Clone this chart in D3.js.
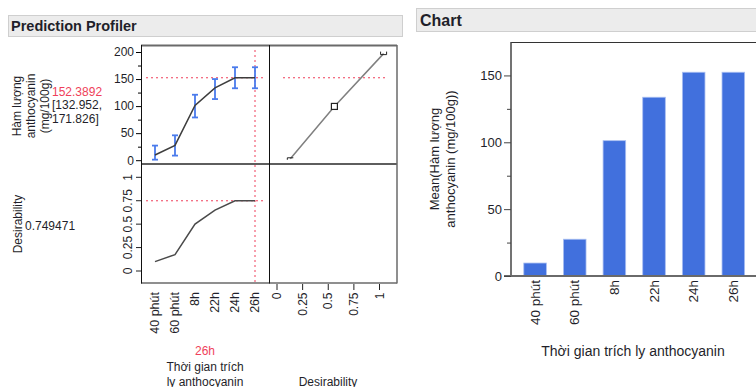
<!DOCTYPE html>
<html>
<head>
<meta charset="utf-8">
<script src="https://cdn.jsdelivr.net/npm/d3@7"></script>
<style>
  body { margin: 0; background: #fff; }
  text { font-family: "Liberation Sans", Arial, sans-serif; fill: #1f1f2a; }
</style>
</head>
<body>
<svg id="chart" width="756" height="387"></svg>
<script>
const times = ['40 phút', '60 phút', '8h', '22h', '24h', '26h'];
const meanAnth = [9.7, 27.5, 101.2, 133.7, 152.3892, 152.3892];
const ciLow = [1, 8.5, 79, 113, 132.952, 132.952];
const ciHigh = [27, 46, 121, 150, 171.826, 171.826];
const desirVals = [0.1, 0.175, 0.5, 0.65, 0.749471, 0.749471];
const desirFnResp = [2.6, 99.4, 197];
const desirFnD = [0.13, 0.56, 1.04];
const anthTicks = [0, 50, 100, 150, 200];
const anthMinor = [25, 75, 125, 175];
const desirTicks = [0, 0.25, 0.5, 0.75, 1];
const barTicks = [0, 50, 100, 150];
const barMinor = [25, 75, 125];
const selTime = '26h';
const selValue = '152.3892';
const selCI = ['[132.952,', '171.826]'];
const selDesir = '0.749471';

const red = '#ef3f5a';
const svg = d3.select('#chart');

// headers
svg.append('rect').attr('x', 8.5).attr('y', 15.5).attr('width', 394).attr('height', 21)
  .attr('fill', '#ececec').attr('stroke', '#cfcfcf');
svg.append('text').attr('x', 11).attr('y', 31).text('Prediction Profiler')
  .style('font-weight', 'bold').style('font-size', '14.5px');
svg.append('rect').attr('x', 416.5).attr('y', 8.5).attr('width', 345).attr('height', 23)
  .attr('fill', '#ececec').attr('stroke', '#cfcfcf');
svg.append('text').attr('x', 420).attr('y', 26).text('Chart')
  .style('font-weight', 'bold').style('font-size', '16px');

// ---------- profiler ----------
const px = d3.scalePoint().domain(times).range([141, 269]).padding(0.7);
const py = d3.scaleLinear().domain([0, 200]).range([160.2, 52]);
const dy = d3.scaleLinear().domain([0, 1]).range([271, 177.3]);
const dx = d3.scaleLinear().domain([0, 1]).range([277, 379.5]);

const prof = svg.append('g');

// dotted crosshairs
const dotted = (sel) => sel.attr('stroke', red).attr('stroke-width', 1).attr('stroke-dasharray', '2,3');
prof.append('line').call(dotted)
  .attr('x1', px(selTime)).attr('x2', px(selTime)).attr('y1', 50).attr('y2', 282);
prof.append('line').call(dotted)
  .attr('x1', 146).attr('x2', 263).attr('y1', py(meanAnth[5])).attr('y2', py(meanAnth[5]));
prof.append('line').call(dotted)
  .attr('x1', 283).attr('x2', 386).attr('y1', py(meanAnth[5])).attr('y2', py(meanAnth[5]));
prof.append('line').call(dotted)
  .attr('x1', 146).attr('x2', 263).attr('y1', dy(desirVals[5])).attr('y2', dy(desirVals[5]));

// error bars
const eb = prof.append('g').selectAll('g')
  .data(times)
  .enter()
  .append('g')
  .attr('stroke', '#4a7bec')
  .attr('stroke-width', 1.8);
eb.append('line')
  .attr('x1', d => px(d)).attr('x2', d => px(d))
  .attr('y1', (d, i) => py(ciLow[i])).attr('y2', (d, i) => py(ciHigh[i]));
eb.append('line')
  .attr('x1', d => px(d) - 3).attr('x2', d => px(d) + 3)
  .attr('y1', (d, i) => py(ciLow[i])).attr('y2', (d, i) => py(ciLow[i]));
eb.append('line')
  .attr('x1', d => px(d) - 3).attr('x2', d => px(d) + 3)
  .attr('y1', (d, i) => py(ciHigh[i])).attr('y2', (d, i) => py(ciHigh[i]));

// prediction trace
prof.append('path')
  .attr('d', d3.line().x(d => px(d)).y((d, i) => py(meanAnth[i]))(times))
  .attr('fill', 'none').attr('stroke', '#3d3d3d').attr('stroke-width', 1.5);

// desirability trace
prof.append('path')
  .attr('d', d3.line().x(d => px(d)).y((d, i) => dy(desirVals[i]))(times))
  .attr('fill', 'none').attr('stroke', '#4a4a4a').attr('stroke-width', 1.5);

// desirability function
prof.append('path')
  .attr('d', d3.line().x((d, i) => dx(desirFnD[i])).y(d => py(d))(desirFnResp))
  .attr('fill', 'none').attr('stroke', '#808080').attr('stroke-width', 1.5);
const hx = desirFnD.map(d => dx(d));
const hy = desirFnResp.map(d => py(d));
prof.append('path')
  .attr('d', `M${hx[0] - 3},${hy[0] + 1}V${hy[0] - 1}H${hx[0] + 3}`)
  .attr('fill', 'none').attr('stroke', '#222').attr('stroke-width', 1);
prof.append('path')
  .attr('d', `M${hx[2] - 3},${hy[2] - 2}V${hy[2] + 1}H${hx[2] + 3}V${hy[2] - 2}`)
  .attr('fill', 'none').attr('stroke', '#222').attr('stroke-width', 1);
prof.append('rect')
  .attr('x', hx[1] - 3).attr('y', hy[1] - 3).attr('width', 6).attr('height', 6)
  .attr('fill', '#fff').attr('stroke', '#222').attr('stroke-width', 1.2);

// frames
prof.append('line').attr('x1', 141).attr('x2', 397).attr('y1', 45.5).attr('y2', 45.5)
  .attr('stroke', '#6a6a6a').attr('stroke-width', 2);
prof.append('line').attr('x1', 141).attr('x2', 397).attr('y1', 164).attr('y2', 164)
  .attr('stroke', '#5e5e5e').attr('stroke-width', 2);
prof.append('line').attr('x1', 141).attr('x2', 397).attr('y1', 283).attr('y2', 283)
  .attr('stroke', '#6a6a6a').attr('stroke-width', 1.5);
prof.append('line').attr('x1', 141.5).attr('x2', 141.5).attr('y1', 45).attr('y2', 283.5)
  .attr('stroke', '#111');
prof.append('line').attr('x1', 269.5).attr('x2', 269.5).attr('y1', 45).attr('y2', 283.5)
  .attr('stroke', '#111');
prof.append('line').attr('x1', 397).attr('x2', 397).attr('y1', 45).attr('y2', 283.5)
  .attr('stroke', '#6a6a6a').attr('stroke-width', 1.5);

// response axis
const ay = prof.append('g').attr('transform', 'translate(141,0)')
  .call(d3.axisLeft(py).tickValues(anthTicks).tickSize(5).tickPadding(2));
ay.select('.domain').remove();
ay.selectAll('text').style('font-size', '12px').style('font-family', null).attr('fill', '#1f1f2a');
const ayMinor = prof.append('g').attr('transform', 'translate(141,0)')
  .call(d3.axisLeft(py).tickValues(anthMinor).tickSize(3).tickFormat(''));
ayMinor.select('.domain').remove();

// desirability axis (rotated labels)
const dTicks = prof.append('g').selectAll('g')
  .data(desirTicks)
  .enter()
  .append('g');
dTicks.append('line')
  .attr('x1', 136).attr('x2', 141).attr('y1', d => dy(d)).attr('y2', d => dy(d))
  .attr('stroke', '#222');
dTicks.append('text')
  .attr('transform', d => `translate(128,${dy(d)}) rotate(-90)`)
  .attr('text-anchor', 'middle').attr('dy', '0.35em')
  .style('font-size', '12px')
  .text(d => d3.format('~g')(d));

// category labels
prof.append('g').selectAll('text')
  .data(times)
  .enter()
  .append('text')
  .attr('transform', d => `translate(${px(d)},292) rotate(-90)`)
  .attr('text-anchor', 'end').attr('dy', '0.35em')
  .style('font-size', '12.5px')
  .text(d => d);

// desirability x axis
const dxTicks = prof.append('g').selectAll('g')
  .data(desirTicks)
  .enter()
  .append('g');
dxTicks.append('line')
  .attr('x1', d => dx(d)).attr('x2', d => dx(d)).attr('y1', 284).attr('y2', 290)
  .attr('stroke', '#222');
dxTicks.append('text')
  .attr('transform', d => `translate(${dx(d)},292.5) rotate(-90)`)
  .attr('text-anchor', 'end').attr('dy', '0.35em')
  .style('font-size', '12px')
  .text(d => d3.format('~g')(d));

// side labels
const respLabel = ['Hàm lượng', 'anthocyanin', '(mg/100g)'];
prof.append('g').selectAll('text')
  .data(respLabel)
  .enter()
  .append('text')
  .attr('transform', (d, i) => `translate(${21 + i * 14},106) rotate(-90)`)
  .attr('text-anchor', 'middle')
  .style('font-size', '12px')
  .text(d => d);
prof.append('text').attr('x', 52).attr('y', 95.5).attr('fill', red).style('fill', red)
  .style('font-size', '12px').text(selValue);
prof.append('g').selectAll('text')
  .data(selCI)
  .enter()
  .append('text')
  .attr('x', 52).attr('y', (d, i) => 109 + i * 13.5)
  .style('font-size', '12px')
  .text(d => d);
prof.append('text').attr('transform', 'translate(22,224) rotate(-90)')
  .attr('text-anchor', 'middle').style('font-size', '12px').text('Desirability');
prof.append('text').attr('x', 25).attr('y', 230).style('font-size', '12px').text(selDesir);

prof.append('text').attr('x', 205).attr('y', 355).attr('text-anchor', 'middle')
  .style('fill', red).style('font-size', '12px').text(selTime);
prof.append('g').selectAll('text')
  .data(['Thời gian trích', 'ly anthocyanin'])
  .enter()
  .append('text')
  .attr('x', 205).attr('y', (d, i) => 371 + i * 15).attr('text-anchor', 'middle')
  .style('font-size', '12px')
  .text(d => d);
prof.append('text').attr('x', 328).attr('y', 386).attr('text-anchor', 'middle')
  .style('font-size', '12px').text('Desirability');

// ---------- bar chart ----------
const bx = d3.scaleBand().domain(times).range([510.7, 757.7]).paddingInner(0.43).paddingOuter(0.33);
const by = d3.scaleLinear().domain([0, 175]).range([276, 42]);

const bar = svg.append('g');

bar.selectAll('rect')
  .data(times)
  .enter()
  .append('rect')
  .attr('x', d => bx(d))
  .attr('y', (d, i) => by(meanAnth[i]))
  .attr('width', bx.bandwidth())
  .attr('height', (d, i) => by(0) - by(meanAnth[i]))
  .attr('fill', '#4170dd')
  .attr('stroke', '#a9bff2')
  .attr('stroke-width', 0.8);

bar.append('line').attr('x1', 511).attr('x2', 756).attr('y1', 42.5).attr('y2', 42.5)
  .attr('stroke', '#333');
bar.append('line').attr('x1', 511).attr('x2', 511).attr('y1', 42).attr('y2', 276)
  .attr('stroke', '#444').attr('stroke-width', 1.5);
bar.append('line').attr('x1', 504).attr('x2', 756).attr('y1', 276).attr('y2', 276)
  .attr('stroke', '#6a6a6a').attr('stroke-width', 2);

const bay = bar.append('g').attr('transform', 'translate(511,0)')
  .call(d3.axisLeft(by).tickValues(barTicks).tickSize(7).tickPadding(2));
bay.select('.domain').remove();
bay.selectAll('line').attr('stroke', '#444');
bay.selectAll('text').style('font-size', '13px').style('font-family', null).attr('fill', '#1f1f2a');
const bayMinor = bar.append('g').attr('transform', 'translate(511,0)')
  .call(d3.axisLeft(by).tickValues(barMinor).tickSize(4).tickFormat(''));
bayMinor.select('.domain').remove();
bayMinor.selectAll('line').attr('stroke', '#444');

bar.append('g').selectAll('text')
  .data(times)
  .enter()
  .append('text')
  .attr('transform', d => `translate(${bx(d) + bx.bandwidth() / 2},280) rotate(-90)`)
  .attr('text-anchor', 'end').attr('dy', '0.35em')
  .style('font-size', '13.5px')
  .text(d => d);

bar.append('g').selectAll('text')
  .data(['Mean(Hàm lượng', 'anthocyanin (mg/100g))'])
  .enter()
  .append('text')
  .attr('transform', (d, i) => `translate(${439 + i * 15.5},159) rotate(-90)`)
  .attr('text-anchor', 'middle')
  .style('font-size', '13px')
  .text(d => d);

bar.append('text').attr('x', 633).attr('y', 356).attr('text-anchor', 'middle')
  .style('font-size', '14px').text('Thời gian trích ly anthocyanin');
</script>
</body>
</html>
